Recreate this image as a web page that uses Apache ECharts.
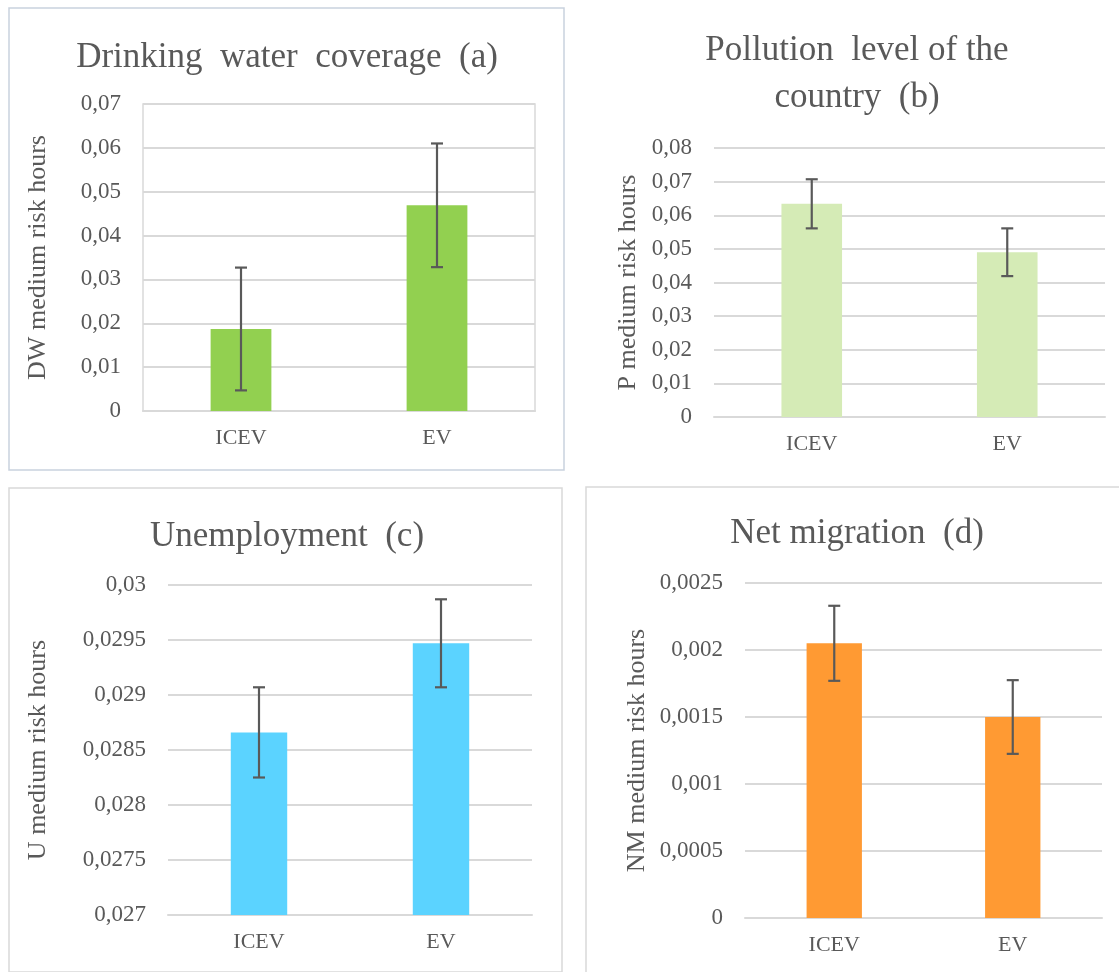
<!DOCTYPE html>
<html>
<head>
<meta charset="utf-8">
<script src="https://cdn.jsdelivr.net/npm/echarts@6/dist/echarts.min.js"></script>
<style>
html,body{margin:0;padding:0;background:#fff;}
#chart{width:1119px;height:972px;}
</style>
</head>
<body>
<div id="chart"></div>
<script>
// ---- data ----
const categories = ['ICEV', 'EV'];
const titles = ['Drinking  water  coverage  (a)', 'Pollution  level of the\ncountry  (b)', 'Unemployment  (c)', 'Net migration  (d)'];
const axisNames = ['DW medium risk hours', 'P medium risk hours', 'U medium risk hours', 'NM medium risk hours'];
const dwValues = [0.0187, 0.0469];
const dwErrors = [0.0140, 0.0141];
const pValues = [0.0634, 0.0490];
const pErrors = [0.0073, 0.0071];
const uValues = [0.02866, 0.02947];
const uErrors = [0.00041, 0.00040];
const nmValues = [0.00205, 0.00150];
const nmErrors = [0.00028, 0.000275];
const axisMin = [0, 0, 0.027, 0];
const axisMax = [0.07, 0.08, 0.03, 0.0025];
const axisStep = [0.01, 0.01, 0.0005, 0.0005];

// ---- styling / layout ----
const FONT = 'Liberation Serif';
const TXT = '#595959';
const GRIDC = '#d9d9d9';
const colors = ['#92D050', '#D5EBB6', '#5BD3FF', '#FF9A33'];
const grids = [
  {left: 143, top: 104, width: 392, height: 307, show: true, borderColor: GRIDC, borderWidth: 1.5, backgroundColor: 'transparent'},
  {left: 714, top: 148, width: 391, height: 269},
  {left: 168, top: 585, width: 364, height: 330},
  {left: 745, top: 583, width: 357, height: 335}
];
const nameGaps = [105, 86, 130, 108];
const titlePos = [
  {x: 287, top: 34}, {x: 857, top: 27}, {x: 287, top: 513}, {x: 857, top: 510}
];
const allValues = [dwValues, pValues, uValues, nmValues];
const allErrors = [dwErrors, pErrors, uErrors, nmErrors];

function fmt(v) {
  return parseFloat(v.toPrecision(8)).toString().replace('.', ',');
}

const option = {
  animation: false,
  backgroundColor: '#fff',
  title: titles.map((t, i) => ({
    text: t,
    left: titlePos[i].x,
    top: titlePos[i].top,
    textAlign: 'center',
    padding: 0,
    textStyle: {fontFamily: FONT, fontSize: 35, fontWeight: 'normal', color: TXT, lineHeight: 47}
  })),
  graphic: [
    {type: 'rect', shape: {x: 9, y: 8, width: 555, height: 462}, style: {fill: 'none', stroke: '#c9d2de', lineWidth: 1.5}, silent: true},
    {type: 'rect', shape: {x: 9, y: 488, width: 553, height: 484}, style: {fill: 'none', stroke: '#d9d9d9', lineWidth: 1.5}, silent: true},
    {type: 'rect', shape: {x: 586, y: 487, width: 560, height: 500}, style: {fill: 'none', stroke: '#d9d9d9', lineWidth: 1.5}, silent: true}
  ],
  grid: grids,
  xAxis: grids.map((g, i) => ({
    type: 'category',
    gridIndex: i,
    data: categories,
    axisLine: {show: true, lineStyle: {color: GRIDC, width: 2}},
    axisTick: {show: false},
    axisLabel: {fontFamily: FONT, fontSize: 22, color: TXT, margin: 16}
  })),
  yAxis: grids.map((g, i) => ({
    type: 'value',
    gridIndex: i,
    min: axisMin[i],
    max: axisMax[i],
    interval: axisStep[i],
    startValue: axisMin[i],
    name: axisNames[i],
    nameLocation: 'middle',
    nameGap: nameGaps[i],
    nameRotate: 90,
    nameTextStyle: {fontFamily: FONT, fontSize: 26, color: TXT, verticalAlign: 'middle'},
    axisLine: {show: false},
    axisTick: {show: false},
    splitLine: {show: true, lineStyle: {color: GRIDC, width: 2}},
    axisLabel: {fontFamily: FONT, fontSize: 23, color: TXT, margin: 22, formatter: fmt}
  })),
  series: []
};

allValues.forEach((vals, i) => {
  option.series.push({
    type: 'bar',
    xAxisIndex: i,
    yAxisIndex: i,
    data: vals,
    barWidth: '31%',
    clip: true,
    itemStyle: {color: colors[i]},
    silent: true
  });
  option.series.push({
    type: 'custom',
    xAxisIndex: i,
    yAxisIndex: i,
    silent: true,
    z: 10,
    data: vals.map((v, k) => [k, v - allErrors[i][k], v + allErrors[i][k]]),
    encode: {x: 0, y: [1, 2]},
    renderItem: function (params, api) {
      const x = api.value(0);
      const top = api.coord([x, api.value(2)]);
      const bot = api.coord([x, api.value(1)]);
      const w = 6;
      const st = {stroke: TXT, lineWidth: 2.2};
      return {
        type: 'group',
        children: [
          {type: 'line', shape: {x1: top[0], y1: top[1], x2: bot[0], y2: bot[1]}, style: st},
          {type: 'line', shape: {x1: top[0] - w, y1: top[1], x2: top[0] + w, y2: top[1]}, style: st},
          {type: 'line', shape: {x1: bot[0] - w, y1: bot[1], x2: bot[0] + w, y2: bot[1]}, style: st}
        ]
      };
    }
  });
});

const chart = echarts.init(document.getElementById('chart'), null, {renderer: 'canvas'});
chart.setOption(option);
</script>
</body>
</html>
